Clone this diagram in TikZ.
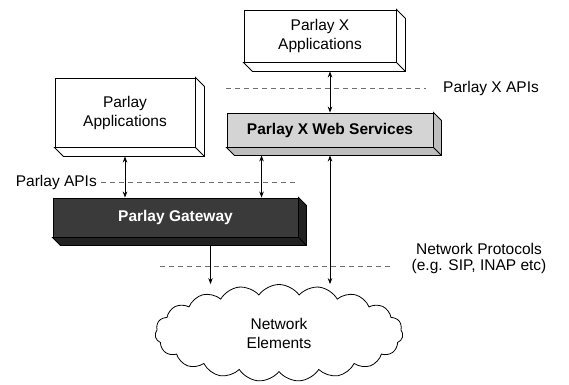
\documentclass[tikz,border=0pt]{standalone}
\usepackage{fontspec}
\setmainfont{Liberation Sans}
\usepackage{tikz}
\usetikzlibrary{positioning,arrows.meta,shapes.symbols}
\definecolor{wsfront}{RGB}{212, 212, 212}
\definecolor{wsside}{RGB}{190, 190, 190}
\definecolor{gwfront}{RGB}{58, 58, 58}
\definecolor{gwside}{RGB}{34, 34, 34}
\definecolor{apigray}{RGB}{110, 110, 110}

% side and bottom faces of a 3-D box, behind the front face of node #1
\newcommand{\extrude}[3]{%
  \filldraw[fill=#2, line width=0.9pt] (#1.north east) -- ++(#3,#3)
    |- ([shift={(#3,#3)}]#1.south west) -- (#1.south west) -- (#1.south east) -- cycle;
  \draw[line width=0.9pt] (#1.south east) -- ++(#3,#3);
}

\begin{document}
\begin{tikzpicture}[
    x=1pt, y=-1pt,
    font=\fontsize{15.5}{19}\selectfont,
    block/.style={draw, line width=0.9pt, fill=white, inner sep=0pt, align=center},
    biarr/.style={{Stealth[length=6pt,width=4.5pt]}-{Stealth[length=6pt,width=4.5pt]}, line width=0.8pt},
    arr/.style={-{Stealth[length=6pt,width=4.5pt]}, line width=0.8pt},
    apiline/.style={draw=apigray, line width=0.7pt, dash pattern=on 4.5pt off 4.5pt},
    lbl/.style={inner sep=0pt, align=center, font=\fontsize{15.5}{16}\selectfont},
]
\useasboundingbox (0,0) rectangle (569,384);

% boxes
\node[block, minimum width=152pt, minimum height=52pt] (pxa) at (320,36) {Parlay X\\Applications};
\node[block, minimum width=140pt, minimum height=69pt] (pa) at (125,112.5) {Parlay\\Applications};
\node[block, fill=wsfront, minimum width=206pt, minimum height=34pt, font=\fontsize{15.5}{19}\selectfont\bfseries] (pxws) at (330,130) {Parlay X Web Services};
\node[block, fill=gwfront, text=white, minimum width=245pt, minimum height=39pt, font=\fontsize{15.5}{19}\selectfont\bfseries] (gw) at (175.5,217.5) {Parlay Gateway};
\extrude{pxa}{white}{9}
\extrude{pa}{white}{9}
\extrude{pxws}{wsside}{8}
\extrude{gw}{gwside}{8}

% network
\node[cloud, draw, line width=0.8pt, cloud puffs=19, cloud puff arc=110, aspect=2.6,
      minimum width=248pt, minimum height=97pt, inner sep=0pt, align=center] (ne) at (279,333) {Network\\Elements};

% interface labels
\node[lbl, anchor=west] (pxapis) at (443,88) {Parlay X APIs};
\node[lbl, anchor=east] (papis) at (97,182) {Parlay APIs};
\node[lbl] (netproto) at (479,258) {Network Protocols\\(e.g. SIP, INAP etc)};

\coordinate (pxl) at (226,88);
\coordinate (pl) at (298,182);
\coordinate (npl) at (160,266);
\coordinate (npr) at (393,266);
\draw[apiline] (pxl) -- ([xshift=-17pt]pxapis.west);
\draw[apiline] ([xshift=4pt]papis.east) -- (pl);
\draw[apiline] (npl) -- (npr);

% connectors
\coordinate (wsleg) at ([xshift=35pt]pxws.south west);
\coordinate (gwleg) at ([xshift=35pt]gw.south);
\draw[biarr] ([yshift=-9pt]pxa.south -| pxws.north) -- (pxws.north);
\draw[biarr] ([yshift=-9pt]pa.south) -- (pa.south |- gw.north);
\draw[biarr] ([yshift=-8pt]wsleg) -- (wsleg |- gw.north);
\draw[biarr] ([yshift=-8pt]pxws.south) -- (pxws.south |- ne.north);
\draw[arr] ([yshift=-8pt]gwleg) -- (gwleg |- ne.north);
\end{tikzpicture}
\end{document}
